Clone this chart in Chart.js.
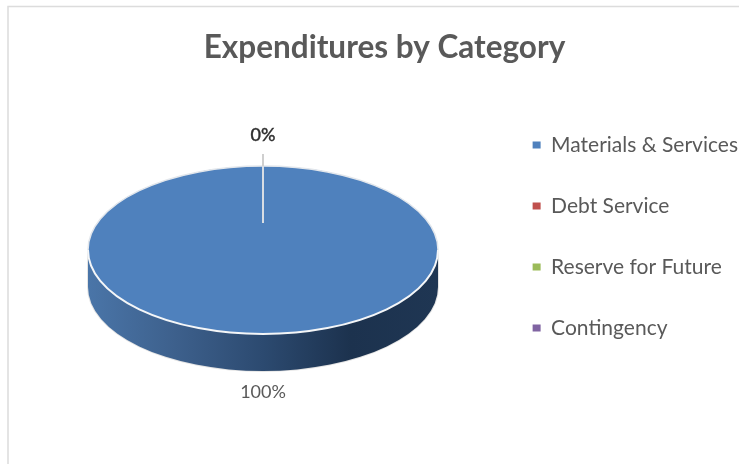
<!DOCTYPE html>
<html><head><meta charset="utf-8">
<style>html,body{margin:0;padding:0;background:#fff;overflow:hidden}#w{position:relative;width:739px;height:464px}</style>
<script src="https://cdn.jsdelivr.net/npm/chart.js@4"></script>
</head><body><div id="w"><canvas id="c" width="739" height="464"></canvas></div>
<script>
const chartTitle = "Expenditures by Category";
const categories = ["Materials & Services", "Debt Service", "Reserve for Future", "Contingency"];
const values = [100, 0, 0, 0];
const sliceColors = ["#4f81bd", "#c0504d", "#9bbb59", "#8064a2"];
const TILT = 0.48, DEPTH = 37, TARGET_X = 263, TARGET_Y = 250, R = 175;
const total = values.reduce((a, b) => a + b, 0);
const pct = v => Math.round(v / total * 100) + "%";

const pie3d = {
  id: "pie3d",
  beforeDraw(chart) {
    const c = chart.ctx;
    c.save();
    c.strokeStyle = "#dcdcdc"; c.lineWidth = 1.5;
    c.beginPath(); c.moveTo(8, 464); c.lineTo(8, 6.5); c.lineTo(739, 6.5); c.stroke();
    c.restore();
  },
  beforeDatasetsDraw(chart) {
    const c = chart.ctx, arc = chart.getDatasetMeta(0).data[0];
    const ry = R * TILT;
    const side = new Path2D();
    side.ellipse(TARGET_X, TARGET_Y, R, ry, 0, Math.PI, 0, true);
    side.lineTo(TARGET_X + R, TARGET_Y + DEPTH);
    side.ellipse(TARGET_X, TARGET_Y + DEPTH, R, ry, 0, 0, Math.PI, false);
    side.closePath();
    const g = c.createLinearGradient(TARGET_X - R, 0, TARGET_X + R, 0);
    g.addColorStop(0, "#4a75a8");
    g.addColorStop(0.25, "#3d608c");
    g.addColorStop(0.5, "#2c4a70");
    g.addColorStop(0.75, "#1c324e");
    g.addColorStop(1, "#1f3653");
    c.save();
    c.strokeStyle = "#e4e4e4"; c.lineWidth = 2; c.stroke(side);
    c.fillStyle = g; c.fill(side);
    c.restore();
    c.save();
    c.translate(TARGET_X, TARGET_Y);
    c.scale(1, TILT);
    c.translate(-arc.x, -arc.y);
  },
  afterDatasetsDraw(chart) {
    const c = chart.ctx;
    c.restore();
    c.save();
    c.strokeStyle = "#e3e7ec"; c.lineWidth = 1.5;
    c.beginPath(); c.ellipse(TARGET_X, TARGET_Y, R, R * TILT, 0, Math.PI, Math.PI * 2); c.stroke();
    c.strokeStyle = "#f4f6f8"; c.lineWidth = 2;
    c.beginPath(); c.ellipse(TARGET_X, TARGET_Y, R, R * TILT, 0, 0, Math.PI); c.stroke();
    c.lineWidth = 2;
    c.strokeStyle = "#d8dde3";
    c.beginPath(); c.moveTo(TARGET_X, TARGET_Y - R * TILT * 0.32); c.lineTo(TARGET_X, TARGET_Y - R * TILT); c.stroke();
    c.strokeStyle = "#cfcfcf";
    c.beginPath(); c.moveTo(TARGET_X, TARGET_Y - R * TILT); c.lineTo(TARGET_X, TARGET_Y - R * TILT - 12); c.stroke();
    c.textAlign = "center"; c.textBaseline = "alphabetic";
    c.font = '500 18px Lato';
    c.fillStyle = "#303030";
    c.lineWidth = 0.35; c.strokeStyle = "#303030";
    c.fillText(pct(values[1]), TARGET_X, 141);
    c.strokeText(pct(values[1]), TARGET_X, 141);
    c.font = '18px Lato';
    c.fillStyle = "#595959";
    c.fillText(pct(values[0]), TARGET_X, 398);
    c.restore();
  }
};

new Chart(document.getElementById("c"), {
  type: "pie",
  data: { labels: categories, datasets: [{ data: values, backgroundColor: sliceColors, borderWidth: 0, radius: R }] },
  plugins: [pie3d],
  options: {
    responsive: false, animation: false,
    layout: { padding: { left: 21, right: -9, top: 29, bottom: 20 } },
    plugins: {
      tooltip: { enabled: false },
      title: { display: true, text: chartTitle, color: "#595959", font: { family: "Lato", size: 31.5, weight: "bold" }, padding: { top: 0, bottom: 10 } },
      legend: {
        position: "right", align: "center",
        labels: { boxWidth: 8, boxHeight: 7, padding: 40, color: "#595959", font: { family: "Lato", size: 21 } }
      }
    }
  }
});
</script></body></html>
